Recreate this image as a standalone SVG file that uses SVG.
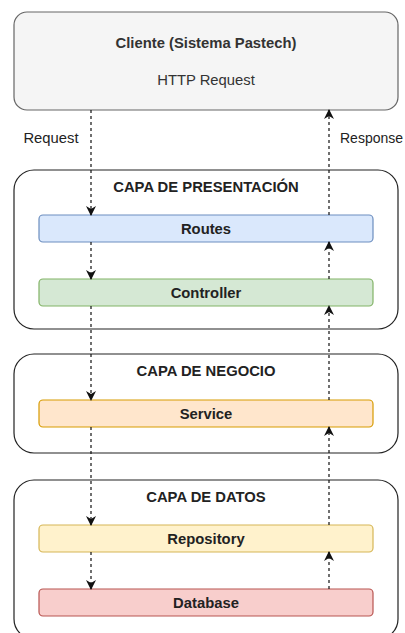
<svg xmlns="http://www.w3.org/2000/svg" width="405" height="633" viewBox="0 0 405 633">
<style>
text{font-family:"Liberation Sans",Arial,sans-serif;font-size:14.8px;text-anchor:middle;dominant-baseline:central;fill:#222}
.b{font-weight:bold}
.layer{fill:#fff;stroke:#222;stroke-width:1.2}
.node{stroke-width:1.2}
.edge{fill:none;stroke:#111;stroke-width:1.2;stroke-dasharray:3 3}
</style>
<defs>
<marker id="ah" viewBox="0 0 10 10" refX="9" refY="5" markerWidth="10" markerHeight="10" markerUnits="userSpaceOnUse" orient="auto">
<path d="M0,0 L10,5 L0,10 L3,5 Z" fill="#111"/>
</marker>
</defs>
<g id="cliente">
<rect x="14" y="12" width="384" height="98" rx="13" fill="#f5f5f5" stroke="#666" stroke-width="1.2"/>
<text x="206" y="43" class="b" style="fill:#333">Cliente (Sistema Pastech)</text>
<text x="206" y="80" style="fill:#333">HTTP Request</text>
</g>
<g id="capa-presentacion">
<rect class="layer" x="14" y="170" width="384" height="159" rx="20"/>
<text x="206" y="187" class="b">CAPA DE PRESENTACIÓN</text>
</g>
<g id="capa-negocio">
<rect class="layer" x="14" y="354" width="384" height="99" rx="20"/>
<text x="206" y="371" class="b">CAPA DE NEGOCIO</text>
</g>
<g id="capa-datos">
<rect class="layer" x="14" y="480" width="384" height="159" rx="20"/>
<text x="206" y="497" class="b">CAPA DE DATOS</text>
</g>
<g id="routes">
<rect class="node" x="39" y="215" width="334" height="27" rx="4" fill="#dae8fc" stroke="#6c8ebf"/>
<text x="206" y="228.5" class="b">Routes</text>
</g>
<g id="controller">
<rect class="node" x="39" y="279" width="334" height="27" rx="4" fill="#d5e8d4" stroke="#82b366"/>
<text x="206" y="292.5" class="b">Controller</text>
</g>
<g id="service">
<rect class="node" x="39" y="400" width="334" height="27" rx="4" fill="#ffe6cc" stroke="#d79b00"/>
<text x="206" y="413.5" class="b">Service</text>
</g>
<g id="repository">
<rect class="node" x="39" y="525" width="334" height="27" rx="4" fill="#fff2cc" stroke="#d6b656"/>
<text x="206" y="538.5" class="b">Repository</text>
</g>
<g id="database">
<rect class="node" x="39" y="589" width="334" height="27" rx="4" fill="#f8cecc" stroke="#b85450"/>
<text x="206" y="602.5" class="b">Database</text>
</g>
<g id="connectors">
<line class="edge" x1="91" y1="110" x2="91" y2="215" marker-end="url(#ah)"/>
<line class="edge" x1="91" y1="242" x2="91" y2="279" marker-end="url(#ah)"/>
<line class="edge" x1="91" y1="306" x2="91" y2="400" marker-end="url(#ah)"/>
<line class="edge" x1="91" y1="427" x2="91" y2="525" marker-end="url(#ah)"/>
<line class="edge" x1="91" y1="552" x2="91" y2="589" marker-end="url(#ah)"/>
<line class="edge" x1="329" y1="589" x2="329" y2="552" marker-end="url(#ah)"/>
<line class="edge" x1="329" y1="525" x2="329" y2="427" marker-end="url(#ah)"/>
<line class="edge" x1="329" y1="400" x2="329" y2="306" marker-end="url(#ah)"/>
<line class="edge" x1="329" y1="279" x2="329" y2="242" marker-end="url(#ah)"/>
<line class="edge" x1="329" y1="215" x2="329" y2="110" marker-end="url(#ah)"/>
<text x="51" y="138">Request</text>
<text x="340" y="138" style="text-anchor:start;font-size:14px">Response</text>
</g>
</svg>
